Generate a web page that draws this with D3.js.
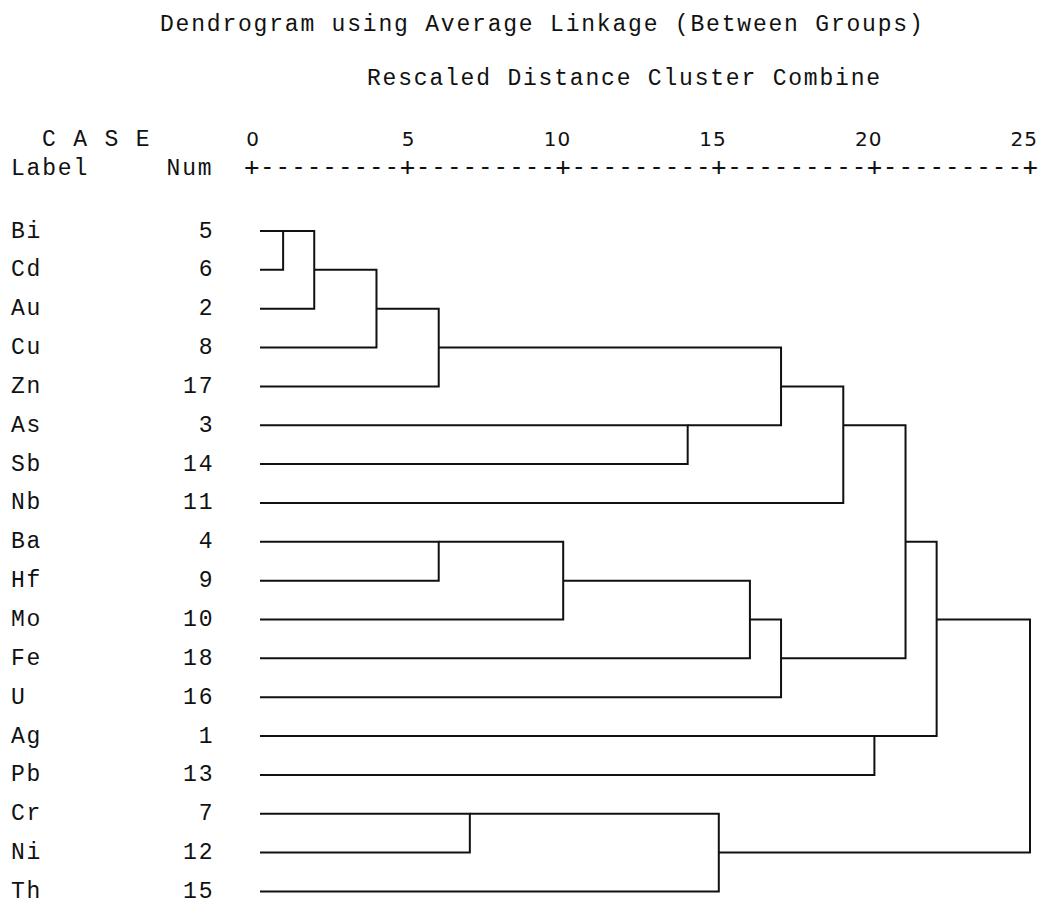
<!DOCTYPE html>
<html>
<head>
<meta charset="utf-8">
<script src="https://cdn.jsdelivr.net/npm/d3@7"></script>
<style>
  html, body { margin: 0; padding: 0; background: #fff; }
  svg { display: block; }
  .mono { font-family: "Liberation Mono", "Courier New", monospace; font-size: 23px; letter-spacing: 1.8px; fill: #111; }
  .axisnum { font-family: "DejaVu Sans", sans-serif; font-size: 20px; letter-spacing: 1px; fill: #111; }
  .axisline { font-family: "DejaVu Sans Mono", monospace; font-size: 25px; fill: #111; }
</style>
</head>
<body>
<svg id="chart" width="1042" height="904"></svg>
<script>
// ---- data ----
const title = "Dendrogram using Average Linkage (Between Groups)";
const subtitle = "Rescaled Distance Cluster Combine";
const labels = ["Bi","Cd","Au","Cu","Zn","As","Sb","Nb","Ba","Hf","Mo","Fe","U","Ag","Pb","Cr","Ni","Th"];
const caseNums = [5,6,2,8,17,3,14,11,4,9,10,18,16,1,13,7,12,15];
const tickValues = [0,5,10,15,20,25];
// merges: [childA, childB, rescaled distance]; leaves are 0..17, merge k gets id 18+k
const merges = [
  [0, 1, 1],    // 18 Bi-Cd
  [18, 2, 2],   // 19 +Au
  [19, 3, 4],   // 20 +Cu
  [20, 4, 6],   // 21 +Zn
  [5, 6, 14],   // 22 As-Sb
  [21, 22, 17], // 23
  [23, 7, 19],  // 24 +Nb
  [8, 9, 6],    // 25 Ba-Hf
  [25, 10, 10], // 26 +Mo
  [26, 11, 16], // 27 +Fe
  [27, 12, 17], // 28 +U
  [24, 28, 21], // 29
  [13, 14, 20], // 30 Ag-Pb
  [29, 30, 22], // 31
  [15, 16, 7],  // 32 Cr-Ni
  [32, 17, 15], // 33 +Th
  [31, 33, 25]  // 34 root
];

// ---- layout ----
const svg = d3.select("#chart");
const cell = 15.56;           // character cell width
const col0 = 11;              // left edge of column 0
const x = d3.scaleLinear().domain([0, 25]).range([252, 1030]);
const y = d3.scaleLinear().domain([0, 17]).range([231, 231 + 17 * 38.85]);
const leafStart = x(0) + 8;

// header texts
svg.append("text").attr("class", "mono").attr("x", 160).attr("y", 31).text(title);
svg.append("text").attr("class", "mono").attr("x", 367).attr("y", 85).text(subtitle);
svg.append("text").attr("class", "mono").attr("x", col0 + 2 * cell).attr("y", 146).text("C A S E");
svg.append("text").attr("class", "mono").attr("x", col0).attr("y", 175).text("Label");
svg.append("text").attr("class", "mono").attr("x", col0 + 10 * cell).attr("y", 175).text("Num");

// axis numbers
svg.append("g").selectAll("text").data(tickValues).join("text")
  .attr("class", "axisnum")
  .attr("x", d => x(d) + 8)
  .attr("y", 146)
  .attr("text-anchor", "end")
  .text(d => d);

// axis "+-----+" line
const step = (x(25) - x(0)) / 50;
let axisStr = "";
for (let i = 0; i <= 50; i++) axisStr += (i % 10 === 0) ? "+" : "-";
svg.append("text").attr("class", "axisline")
  .attr("x", x(0) - step / 2)
  .attr("y", 175)
  .attr("textLength", step * 51)
  .attr("lengthAdjust", "spacing")
  .text(axisStr);

// row labels & numbers
const rows = svg.append("g");
rows.selectAll("text.lab").data(labels).join("text")
  .attr("class", "mono lab")
  .attr("x", col0)
  .attr("y", (d, i) => y(i) + 6.5)
  .text(d => d);
rows.selectAll("text.num").data(caseNums).join("text")
  .attr("class", "mono num")
  .attr("x", col0 + 13 * cell + 1)
  .attr("y", (d, i) => y(i) + 6.5)
  .attr("text-anchor", "end")
  .text(d => d);

// dendrogram links
const nodeRow = labels.map((d, i) => i);
const nodeX = labels.map(() => leafStart);
const paths = [];
merges.forEach(([a, b, dist]) => {
  const xm = x(dist);
  paths.push({ xa: nodeX[a], ya: y(nodeRow[a]), xb: nodeX[b], yb: y(nodeRow[b]), xm });
  nodeRow.push(Math.floor((nodeRow[a] + nodeRow[b]) / 2));
  nodeX.push(xm);
});
svg.append("g").selectAll("path").data(paths).join("path")
  .attr("d", p => `M${p.xa},${p.ya}H${p.xm}V${p.yb}H${p.xb}`)
  .attr("fill", "none")
  .attr("stroke", "#111")
  .attr("stroke-width", 2)
  .attr("stroke-linejoin", "miter");
</script>
</body>
</html>
